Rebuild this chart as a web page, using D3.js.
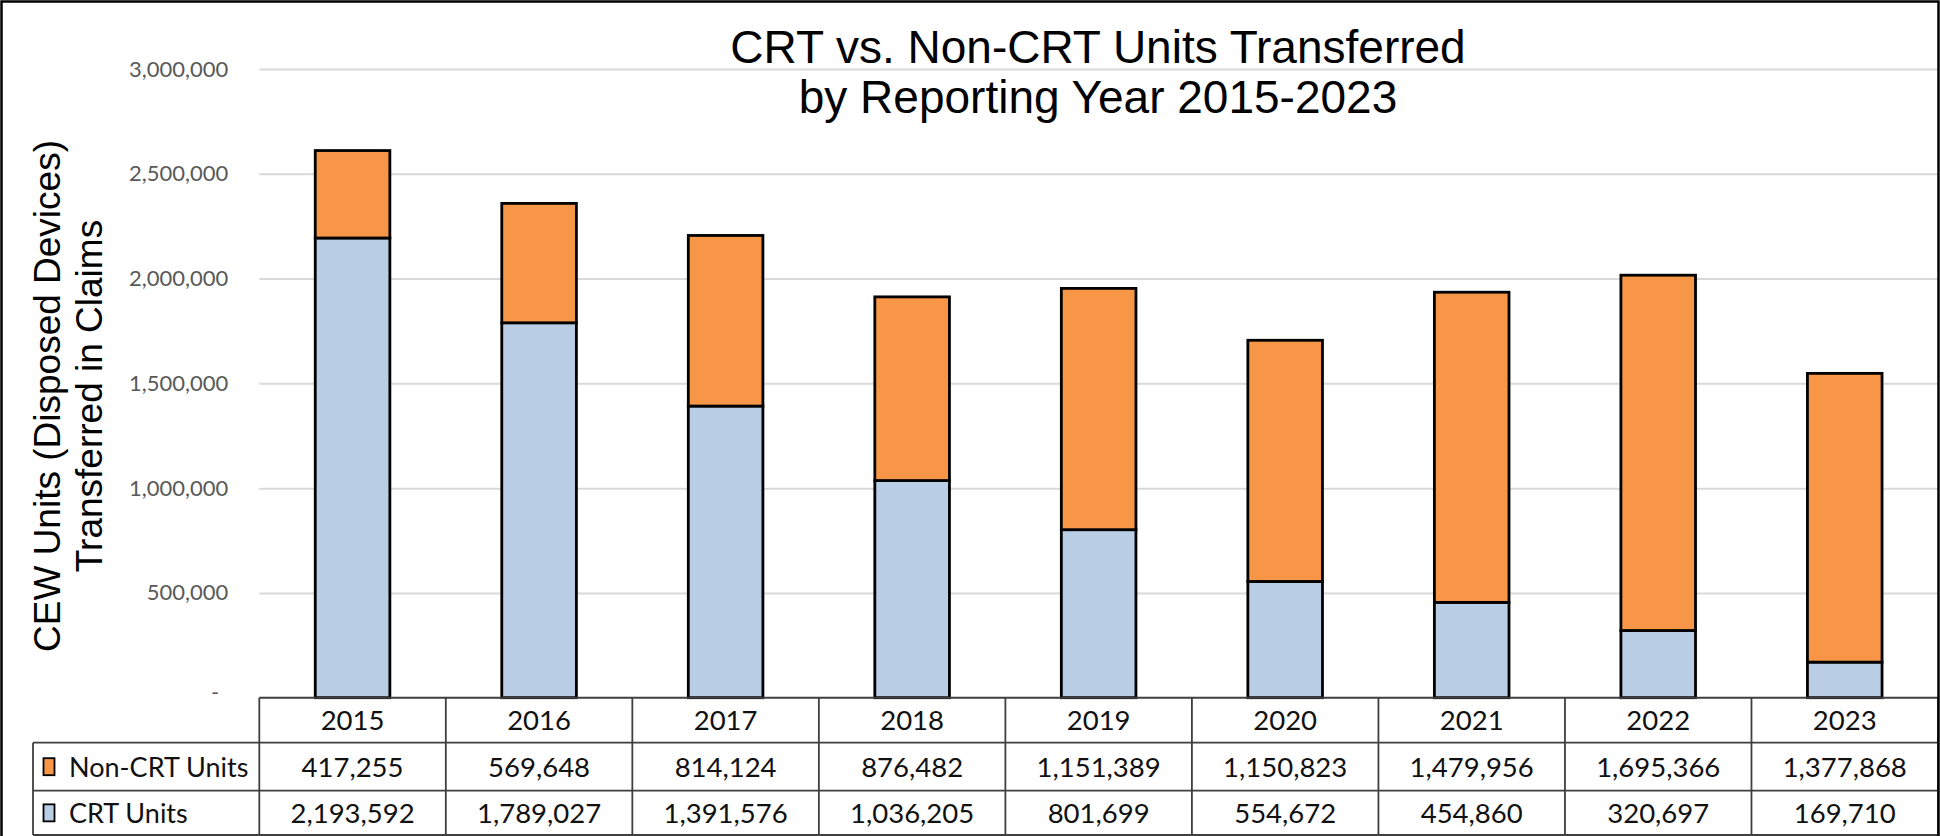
<!DOCTYPE html>
<html>
<head>
<meta charset="utf-8">
<script src="https://cdn.jsdelivr.net/npm/d3@7"></script>
<style>
  body { margin: 0; background: #fff; }
  svg { display: block; }
</style>
</head>
<body>
<svg width="1940" height="836"></svg>
<script>
var years = ["2015", "2016", "2017", "2018", "2019", "2020", "2021", "2022", "2023"];
var crtUnits = [2193592, 1789027, 1391576, 1036205, 801699, 554672, 454860, 320697, 169710];
var nonCrtUnits = [417255, 569648, 814124, 876482, 1151389, 1150823, 1479956, 1695366, 1377868];
var yTicks = [0, 500000, 1000000, 1500000, 2000000, 2500000, 3000000];
var seriesNames = ["Non-CRT Units", "CRT Units"];

var crt_color = "#b9cde5";
var non_crt_color = "#f79646";
var table_line = "#3f3f3f";

var svg = d3.select("svg");
var width = +svg.attr("width");
var height = +svg.attr("height");

var plotLeft = 259.3, plotRight = 1938, plotTop = 69, plotBottom = 697.7;
var legendLeft = 33;
var rowLines = [697.7, 742.7, 790.7, 835];

var x = d3.scaleBand().domain(years).range([plotLeft, plotRight]);
var xBar = d3.scaleBand().domain(years).range([plotLeft, plotRight])
             .paddingInner(0.6).paddingOuter(0.3);
var y = d3.scaleLinear().domain([0, 3000000]).range([plotBottom, plotTop]);

var fmt = d3.format(",");

// gridlines + tick labels
var yAxis = svg.append("g")
   .attr("transform", "translate(" + plotLeft + ",0)")
   .call(d3.axisLeft(y)
           .tickValues(yTicks)
           .tickSize(-(plotRight - plotLeft))
           .tickPadding(31)
           .tickFormat(function(d) { return d === 0 ? "-" : fmt(d); }));
yAxis.select(".domain").remove();
yAxis.selectAll("line")
     .attr("stroke", "#d9d9d9")
     .attr("stroke-width", 2)
     .filter(function(d) { return d === 0; }).remove();
yAxis.selectAll("text")
     .style("font-family", "Lato, 'Noto Sans', sans-serif")
     .style("font-size", "22px")
     .attr("fill", "#595959")
     .filter(function(d) { return d === 0; })
     .attr("x", -40)
     .attr("dy", "0.1em");

// stacked bars
var stackData = years.map(function(yr, i) {
    return {year: yr, crt: crtUnits[i], non: nonCrtUnits[i]};
});

var bars = svg.append("g").attr("class", "bars");
bars.selectAll("rect.crt")
    .data(stackData)
    .enter()
    .append("rect")
    .attr("class", "crt")
    .attr("x", function(d) { return xBar(d.year); })
    .attr("width", xBar.bandwidth())
    .attr("y", function(d) { return y(d.crt); })
    .attr("height", function(d) { return y(0) - y(d.crt); })
    .attr("fill", crt_color)
    .attr("stroke", "#000")
    .attr("stroke-width", 2.8);
bars.selectAll("rect.non")
    .data(stackData)
    .enter()
    .append("rect")
    .attr("class", "non")
    .attr("x", function(d) { return xBar(d.year); })
    .attr("width", xBar.bandwidth())
    .attr("y", function(d) { return y(d.crt + d.non); })
    .attr("height", function(d) { return y(d.crt) - y(d.crt + d.non); })
    .attr("fill", non_crt_color)
    .attr("stroke", "#000")
    .attr("stroke-width", 2.8);

// data table
var table = svg.append("g").attr("class", "table");
table.append("line")
     .attr("x1", plotLeft).attr("x2", plotRight)
     .attr("y1", rowLines[0]).attr("y2", rowLines[0])
     .attr("stroke", table_line).attr("stroke-width", 2);
rowLines.slice(1).forEach(function(ry) {
    table.append("line")
         .attr("x1", legendLeft).attr("x2", plotRight)
         .attr("y1", ry).attr("y2", ry)
         .attr("stroke", table_line).attr("stroke-width", 1.8);
});
var colEdges = years.map(function(yr) { return x(yr); }).concat([plotRight]);
table.selectAll("line.col")
     .data(colEdges)
     .enter()
     .append("line")
     .attr("class", "col")
     .attr("x1", function(d) { return d; }).attr("x2", function(d) { return d; })
     .attr("y1", rowLines[0]).attr("y2", rowLines[3])
     .attr("stroke", table_line).attr("stroke-width", 1.8);
table.append("line")
     .attr("x1", legendLeft).attr("x2", legendLeft)
     .attr("y1", rowLines[1]).attr("y2", rowLines[3])
     .attr("stroke", table_line).attr("stroke-width", 1.8);

var rows = [years, nonCrtUnits.map(fmt), crtUnits.map(fmt)];
rows.forEach(function(vals, r) {
    var cy = (rowLines[r] + rowLines[r + 1]) / 2;
    table.selectAll("text.r" + r)
         .data(vals)
         .enter()
         .append("text")
         .attr("class", "r" + r)
         .attr("x", function(d, i) { return x(years[i]) + x.bandwidth() / 2; })
         .attr("y", cy + 10)
         .attr("text-anchor", "middle")
         .style("font-family", "Lato, 'Noto Sans', sans-serif")
         .style("font-size", "27.5px")
         .attr("fill", "#111")
         .text(function(d) { return d; });
});

// legend keys in table
var keyColors = [non_crt_color, crt_color];
seriesNames.forEach(function(name, i) {
    var cy = (rowLines[i + 1] + rowLines[i + 2]) / 2;
    table.append("rect")
         .attr("x", 43.5).attr("y", cy - 8.5)
         .attr("width", 11).attr("height", 17)
         .attr("fill", keyColors[i])
         .attr("stroke", "#000").attr("stroke-width", 1.8);
    table.append("text")
         .attr("x", 69).attr("y", cy + 10)
         .style("font-family", "Lato, 'Noto Sans', sans-serif")
         .style("font-size", "27px")
         .attr("fill", "#111")
         .text(name);
});

// title
var title = svg.append("text")
   .attr("text-anchor", "middle")
   .style("font-family", "'Liberation Sans', Arial, sans-serif")
   .style("font-size", "46px")
   .attr("fill", "#000");
title.append("tspan").attr("x", 1098).attr("y", 63).text("CRT vs. Non-CRT Units Transferred");
title.append("tspan").attr("x", 1098).attr("y", 113).text("by Reporting Year 2015-2023");

// y axis title
var ylab = svg.append("text")
   .attr("transform", "rotate(-90)")
   .attr("text-anchor", "middle")
   .style("font-family", "'Liberation Sans', Arial, sans-serif")
   .style("font-size", "37px")
   .attr("fill", "#000");
ylab.append("tspan").attr("x", -396).attr("y", 60).text("CEW Units (Disposed Devices)");
ylab.append("tspan").attr("x", -396).attr("y", 102).text("Transferred in Claims");

// outer frame
svg.append("rect")
   .attr("x", 1.5).attr("y", 1.5)
   .attr("width", width - 3).attr("height", height + 10)
   .attr("fill", "none")
   .attr("stroke", "#000")
   .attr("stroke-width", 2.5);
</script>
</body>
</html>
